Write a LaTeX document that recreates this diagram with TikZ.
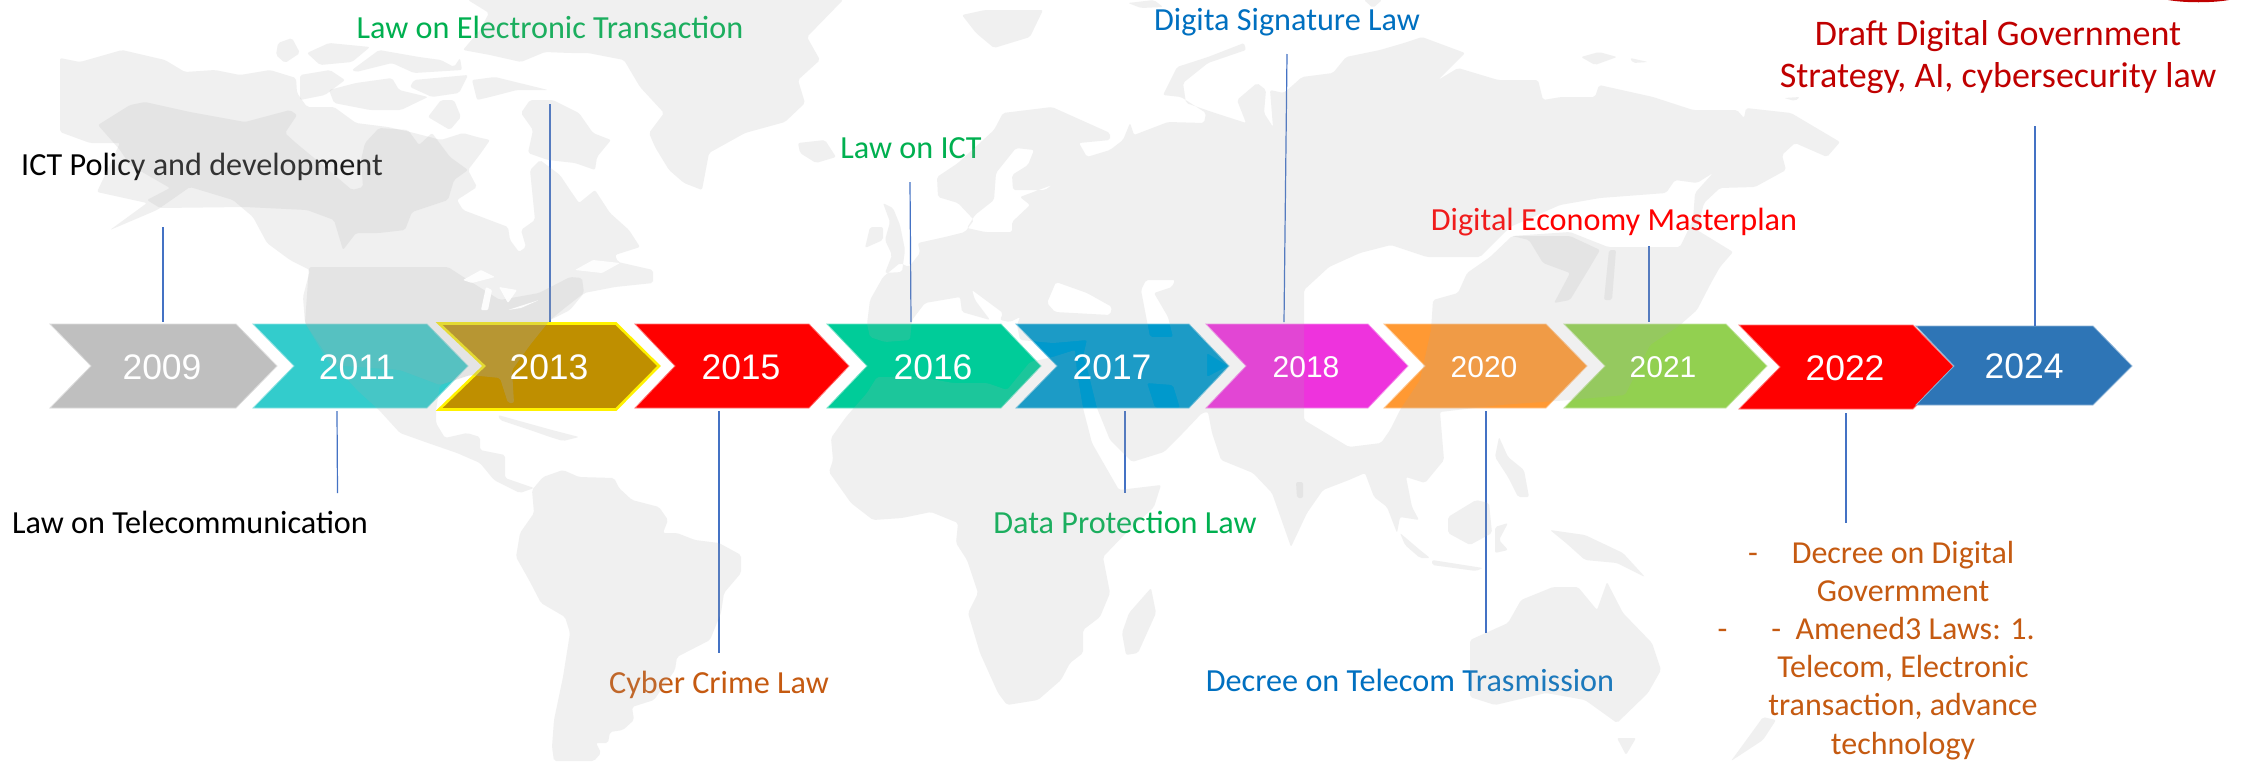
\documentclass[tikz,border=0pt]{standalone}
\usepackage{fontspec}
\setmainfont{Carlito}
\newfontfamily\yearfont{Liberation Sans}
\definecolor{mapgray}{HTML}{A9A9A9}
\definecolor{linkblue}{HTML}{4472C4}
\definecolor{lawgreen}{HTML}{00B050}
\definecolor{lawblue}{HTML}{0070C0}
\definecolor{laworange}{HTML}{C55A11}
\definecolor{lawdark}{HTML}{C00000}
\definecolor{c09}{HTML}{BFBFBF}
\definecolor{c11}{HTML}{33CCCC}
\definecolor{c13}{HTML}{BF8F00}
\definecolor{c15}{HTML}{FF0000}
\definecolor{c16}{HTML}{00CC99}
\definecolor{c17}{HTML}{0099CC}
\definecolor{c18}{HTML}{EE33DD}
\definecolor{c20}{HTML}{FF9933}
\definecolor{c21}{HTML}{92D050}
\definecolor{c24}{HTML}{2E75B6}
\tikzset{
  x=1pt,y=-1pt,
  chev/.style={fill=#1,draw=#1!55!white,line width=.8pt,line join=miter},
  link/.style={draw=linkblue,line width=1.2pt},
  land/.style={fill=mapgray,fill opacity=.17,even odd rule,rounded corners=2pt},
  year/.style={text=white,font=\yearfont\fontsize{35.5}{40}\selectfont,inner sep=0pt},
  yearsm/.style={text=white,font=\yearfont\fontsize{30}{36}\selectfont,inner sep=0pt},
  lab/.style={inner sep=0pt,anchor=base,font=\fontsize{32.2}{38}\selectfont},
}
\begin{document}
\begin{tikzpicture}
\useasboundingbox (0,0) rectangle (2241,761);
\fill[white] (0,0) rectangle (2241,761);
% corner mark
\fill[lawdark] (2168,0) .. controls (2185,3) and (2212,3) .. (2229,0) -- cycle;
% chevrons
\fill[chev=c09] (50,324)--(236,324)--(277,366)--(236,408)--(50,408)--(91,366)--cycle;
\fill[chev=c11] (253,324)--(427,324)--(468,366)--(427,408)--(253,408)--(294,366)--cycle;
\path[fill=c13,draw=yellow,line width=2.6pt] (439,323.5)--(616,323.5)--(659,366)--(616,409.5)--(439,409.5)--(484,366)--cycle;
\fill[chev=c15] (635,324)--(809,324)--(849,366)--(809,408)--(635,408)--(675,366)--cycle;
\fill[chev=c16] (827,324)--(1001,324)--(1041,366)--(1001,408)--(827,408)--(867,366)--cycle;
\fill[chev=c17] (1016,324)--(1189,324)--(1229,366)--(1189,408)--(1016,408)--(1057,366)--cycle;
\fill[chev=c18] (1206,324)--(1368,324)--(1408,366)--(1368,408)--(1206,408)--(1246,366)--cycle;
\fill[chev=c20] (1384,324)--(1546,324)--(1587,366)--(1546,408)--(1384,408)--(1425,366)--cycle;
\fill[chev=c21] (1564,324)--(1726,324)--(1767,366)--(1726,408)--(1564,408)--(1605,366)--cycle;
\fill[chev=c15] (1739,325)--(1913,325)--(1954,367)--(1913,409)--(1739,409)--(1780,367)--cycle;
\fill[chev=c24] (1916,326)--(2093,326)--(2132,366)--(2093,405)--(1916,405)--(1954,366)--cycle;
% connector ends
\coordinate (a09) at (163,227); \coordinate (b09) at (163,322);
\coordinate (a11) at (337,411); \coordinate (b11) at (337.5,493);
\coordinate (a13) at (550,104); \coordinate (b13) at (550,322);
\coordinate (a15) at (719,411); \coordinate (b15) at (719,653);
\coordinate (a16) at (910,182); \coordinate (b16) at (911,322);
\coordinate (a17) at (1125,411); \coordinate (b17) at (1125,493);
\coordinate (a18) at (1287,54); \coordinate (b18) at (1284,322);
\coordinate (a20) at (1486,411); \coordinate (b20) at (1486,633);
\coordinate (a21) at (1649,246); \coordinate (b21) at (1649,322);
\coordinate (a22) at (1846,413); \coordinate (b22) at (1846,523);
\coordinate (a24) at (2035,126); \coordinate (b24) at (2035,326);
\draw[link] (a09)--(b09);
\draw[link] (a11)--(b11);
\draw[link] (a13)--(b13);
\draw[link] (a15)--(b15);
\draw[link] (a16)--(b16);
\draw[link] (a17)--(b17);
\draw[link] (a18)--(b18);
\draw[link] (a20)--(b20);
\draw[link] (a21)--(b21);
\draw[link] (a22)--(b22);
\draw[link] (a24)--(b24);
% labels
\node[lab,text=black] (t09) at (202,175) {ICT Policy and development};
\node[lab,text=black] (t11) at (190,533) {Law on Telecommunication};
\node[lab,text=lawgreen] (t13) at (550,38) {Law on Electronic Transaction};
\node[lab,text=laworange] (t15) at (719,693) {Cyber Crime Law};
\node[lab,text=lawgreen] (t16) at (911,158) {Law on ICT};
\node[lab,text=lawgreen] (t17) at (1125,533) {Data Protection Law};
\node[lab,text=lawblue] (t18) at (1287,30) {Digita Signature Law};
\node[lab,text=lawblue] (t20) at (1410,691) {Decree on Telecom Trasmission};
\node[lab,text=red] (t21) at (1614,230) {Digital Economy Masterplan};
\node[inner sep=0pt,anchor=base,align=center,text=lawdark,font=\fontsize{36}{42}\selectfont] (t24) at (1998,87) {Draft Digital Government\\Strategy, AI, cybersecurity law};
\node[inner sep=0pt,anchor=base,align=center,text=laworange,font=\fontsize{32}{38.2}\selectfont] (t22) at (1903,754) {\llap{-\hspace{34pt}}Decree on Digital\\Govermment\\\llap{-\hspace{44pt}}-\ \ Amened3 Laws: 1.\\Telecom, Electronic\\transaction, advance\\technology};
% world map: light land
\fill[land]
 % North and Central America with Hudson Bay
 (60,58)--(80,62)--(122,50)--(165,60)--(185,72)--(215,70)--(240,75)--(270,70)--(296,78)--(297,93)--(307,107)--(334,107)--(356,123)--(388,127)--(410,132)--(441,140)--(463,133)--(477,137)--(490,140)--(481,153)--(468,170)--(477,187)--(457,200)--(463,210)--(508,227)--(510,240)--(519,252)--(526,247)--(521,230)--(535,220)--(533,200)--(530,170)--(540,160)--(560,175)--(570,190)--(579,203)--(595,190)--(610,213)--(629,230)--(640,247)--(615,255)--(618,262)--(653,270)--(653,283)--(615,287)--(584,293)--(570,310)--(550,320)--(530,345)--(512,370)--(514,403)--(508,403)--(500,378)--(470,375)--(440,385)--(436,410)--(436,423)--(445,438)--(467,433)--(480,437)--(480,450)--(505,455)--(505,478)--(534,488)--(520,493)--(494,480)--(480,463)--(457,453)--(428,443)--(400,433)--(379,410)--(357,390)--(330,360)--(305,323)--(303,297)--(310,270)--(290,260)--(267,243)--(253,217)--(233,200)--(190,187)--(157,210)--(110,230)--(147,203)--(97,192)--(120,143)--(90,143)--(60,132)--cycle
 % South America
 (543,477)--(563,470)--(579,477)--(614,478)--(619,488)--(632,500)--(659,507)--(668,520)--(663,533)--(677,533)--(695,540)--(719,543)--(741,555)--(741,573)--(724,593)--(721,613)--(710,640)--(677,657)--(675,670)--(654,700)--(632,707)--(634,720)--(623,730)--(610,732)--(608,743)--(596,743)--(601,753)--(594,761)--(554,761)--(552,747)--(554,720)--(563,677)--(570,633)--(565,617)--(541,603)--(529,580)--(516,557)--(520,533)--(534,513)--(532,490)--cycle
 % Caribbean
 (498,415)--(534,425)--(552,430)--(579,437)--(563,441)--(550,437)--(530,430)--(500,420)--cycle
 % Greenland and Ellesmere
 (468,0)--(489,13)--(480,30)--(463,50)--(490,55)--(521,62)--(545,52)--(570,53)--(588,53)--(624,60)--(640,87)--(664,113)--(649,133)--(655,147)--(669,170)--(684,183)--(702,190)--(709,153)--(745,133)--(785,122)--(805,103)--(798,80)--(820,60)--(807,37)--(843,0)--cycle
 % Arctic islands
 (278,43)--(292,38)--(300,53)--(285,63)--(276,55)--cycle
 (307,53)--(329,43)--(370,47)--(352,62)--(320,65)--cycle
 (329,90)--(356,83)--(392,78)--(399,90)--(428,97)--(401,110)--(370,110)--(334,103)--cycle
 (414,80)--(468,75)--(459,93)--(432,97)--(410,87)--cycle
 (441,100)--(454,100)--(461,117)--(450,130)--(428,117)--cycle
 (352,70)--(379,50)--(419,57)--(441,60)--(454,67)--(460,58)--(462,70)--(414,73)--(392,63)--(356,72)--cycle
 (472,80)--(495,77)--(548,90)--(517,90)--(490,97)--(477,100)--cycle
 (553,100)--(579,113)--(593,133)--(611,140)--(597,157)--(595,170)--(575,163)--(548,160)--(528,153)--(533,130)--(521,113)--(530,100)--cycle
 % Iceland, Britain, Ireland
 (798,143)--(825,140)--(836,157)--(816,163)--(800,153)--cycle
 (870,227)--(883,227)--(883,240)--(865,248)--cycle
 (883,203)--(893,208)--(900,225)--(905,250)--(902,272)--(885,273)--(892,255)--(885,240)--(890,222)--cycle
 % Svalbard and northern islands
 (962,15)--(985,10)--(1043,10)--(1030,37)--(994,48)--(976,33)--cycle
 (1128,3)--(1154,0)--(1163,7)--(1141,8)--cycle
 (1364,0)--(1382,0)--(1373,8)--cycle
 (1581,57)--(1599,52)--(1617,57)--(1595,65)--cycle
 (1630,58)--(1648,62)--(1633,63)--cycle
 (1784,98)--(1800,97)--(1795,101)--cycle
 % Eurasia
 (937,177)--(958,163)--(994,130)--(1003,113)--(1052,107)--(1110,133)--(1110,140)--(1079,143)--(1087,157)--(1110,150)--(1123,140)--(1130,123)--(1134,135)--(1168,122)--(1204,123)--(1206,113)--(1181,97)--(1163,95)--(1177,67)--(1208,57)--(1244,43)--(1246,50)--(1208,63)--(1183,83)--(1186,103)--(1212,112)--(1246,123)--(1237,100)--(1257,83)--(1266,90)--(1264,113)--(1273,127)--(1270,90)--(1284,93)--(1302,77)--(1333,73)--(1346,57)--(1380,50)--(1404,43)--(1422,37)--(1465,53)--(1438,80)--(1458,68)--(1498,80)--(1538,80)--(1543,100)--(1561,97)--(1595,97)--(1599,85)--(1653,97)--(1693,110)--(1737,110)--(1744,118)--(1746,108)--(1791,113)--(1840,142)--(1827,157)--(1795,143)--(1782,155)--(1786,170)--(1755,187)--(1720,188)--(1704,203)--(1697,230)--(1733,252)--(1720,267)--(1711,283)--(1697,310)--(1680,325)--(1650,345)--(1625,395)--(1570,400)--(1500,405)--(1440,412)--(1444,460)--(1425,483)--(1406,477)--(1412,507)--(1419,520)--(1400,517)--(1397,533)--(1387,507)--(1374,497)--(1365,473)--(1349,480)--(1323,490)--(1307,513)--(1291,547)--(1272,493)--(1253,473)--(1221,460)--(1212,433)--(1208,412)--(1202,413)--(1183,433)--(1164,452)--(1132,462)--(1110,440)--(1097,408)--(1087,367)--(1083,357)--(1087,340)--(1053,343)--(1020,340)--(1017,325)--(1020,317)--(1010,322)--(1000,320)--(1003,313)--(972,290)--(975,300)--(990,320)--(962,312)--(960,297)--(925,303)--(912,320)--(910,340)--(885,342)--(870,337)--(867,324)--(870,300)--(883,277)--(900,263)--(909,267)--(920,253)--(918,243)--(945,237)--(965,232)--(974,220)--(958,203)--(938,197)--cycle
 % white band inside Asia
 (1304,330)--(1304,290)--(1329,267)--(1360,253)--(1391,245)--(1427,257)--(1480,257)--(1510,227)--(1560,205)--(1600,198)--(1666,193)--(1675,180)--(1697,183)--(1713,173)--(1695,193)--(1693,220)--(1680,247)--(1608,247)--(1570,232)--(1512,236)--(1490,257)--(1467,273)--(1458,293)--(1433,300)--(1431,330)--(1420,380)--(1400,410)--(1390,430)--(1381,443)--(1349,447)--(1304,420)--cycle
 % Baltic
 (1016,148)--(1034,150)--(1028,165)--(1012,175)--(1013,190)--(1045,190)--(1052,185)--(1020,197)--(1030,205)--(1012,222)--(1012,232)--(985,232)--(967,228)--(975,215)--(994,200)--(996,173)--cycle
 % Black Sea, Caspian and gulfs
 (1047,303)--(1056,282)--(1087,293)--(1112,307)--(1110,315)--(1055,312)--cycle
 (1141,290)--(1146,280)--(1175,280)--(1172,287)--(1154,293)--(1168,317)--(1173,337)--(1150,337)--cycle
 (1147,383)--(1173,385)--(1180,408)--(1155,408)--cycle
 (1207,353)--(1228,366)--(1207,377)--cycle
 % Africa
 (867,393)--(877,377)--(920,377)--(953,383)--(987,383)--(1007,390)--(1030,362)--(1053,357)--(1075,350)--(1077,373)--(1083,408)--(1092,443)--(1100,457)--(1119,490)--(1161,485)--(1154,507)--(1126,533)--(1103,557)--(1110,593)--(1100,617)--(1083,630)--(1083,653)--(1070,663)--(1061,680)--(1038,700)--(1007,705)--(998,693)--(980,653)--(968,613)--(978,593)--(967,560)--(956,543)--(958,523)--(931,512)--(902,518)--(873,520)--(851,503)--(829,472)--(833,460)--(831,438)--(846,417)--cycle
 % Madagascar
 (1151,588)--(1156,613)--(1138,653)--(1126,655)--(1122,633)--(1129,613)--cycle
 % Indonesia and Philippines
 (1400,533)--(1420,550)--(1430,558)--(1420,558)--(1405,545)--cycle
 (1432,560)--(1483,568)--(1476,571)--(1432,565)--cycle
 (1448,517)--(1476,500)--(1489,503)--(1492,533)--(1470,545)--(1448,533)--cycle
 (1495,527)--(1508,523)--(1499,540)--(1508,550)--(1495,553)--cycle
 (1499,437)--(1508,457)--(1524,470)--(1529,497)--(1518,497)--(1508,477)--(1495,457)--cycle
 (1550,530)--(1585,535)--(1623,553)--(1645,577)--(1617,563)--(1585,560)--(1566,543)--cycle
 % Australia, Tasmania, New Zealand
 (1521,600)--(1553,587)--(1578,587)--(1597,610)--(1607,582)--(1623,613)--(1652,643)--(1661,670)--(1648,693)--(1617,723)--(1585,700)--(1546,693)--(1495,705)--(1470,697)--(1470,640)--(1508,623)--cycle
 (1617,738)--(1636,738)--(1626,755)--cycle
 (1763,717)--(1776,720)--(1763,740)--(1731,761)--(1750,735)--cycle;
% world map: darker parts
\fill[land]
 (98,125)--(130,105)--(145,102)--(190,112)--(245,122)--(290,110)--(297,115)--(285,133)--(296,143)--(325,167)--(352,190)--(363,187)--(361,160)--(365,143)--(379,128)--(408,130)--(419,145)--(432,133)--(450,157)--(468,170)--(454,180)--(448,200)--(412,212)--(405,230)--(379,233)--(356,233)--(343,250)--(334,220)--(307,210)--(245,207)--(160,208)--(147,200)--(170,188)--(130,165)--(120,150)--cycle
 (300,75)--(330,70)--(345,80)--(325,95)--(300,100)--cycle
 (309,267)--(448,267)--(468,280)--(500,300)--(539,293)--(570,277)--(582,278)--(584,293)--(566,307)--(550,320)--(530,345)--(512,370)--(514,403)--(508,403)--(500,378)--(470,375)--(440,385)--(400,370)--(330,365)--(305,323)--cycle
 (1512,236)--(1529,240)--(1543,263)--(1570,273)--(1561,290)--(1554,303)--(1570,300)--(1590,267)--(1600,250)--(1570,236)--cycle
 (1609,250)--(1616,250)--(1612,300)--(1604,300)--cycle
 (1296,482)--(1303,482)--(1303,498)--(1297,498)--cycle;
% great lakes and gulf as white touches
\fill[white,fill opacity=.9,rounded corners=1pt]
 (463,280)--(481,270)--(495,277)--(472,283)--cycle
 (486,287)--(481,310)--(488,310)--(492,290)--cycle
 (499,287)--(517,290)--(508,303)--cycle
 (508,310)--(539,300)--(521,308)--cycle
 (575,270)--(593,260)--(620,263)--(602,273)--cycle;
% years
\node[year] (y09) at (162,367) {2009};
\node[year] (y11) at (357,367) {2011};
\node[year] (y13) at (549,367) {2013};
\node[year] (y15) at (741,367) {2015};
\node[year] (y16) at (933,367) {2016};
\node[year] (y17) at (1112,367) {2017};
\node[yearsm] (y18) at (1306,367) {2018};
\node[yearsm] (y20) at (1484,367) {2020};
\node[yearsm] (y21) at (1663,367) {2021};
\node[year] (y22) at (1845,368) {2022};
\node[year] (y24) at (2024,366) {2024};
\end{tikzpicture}
\end{document}
